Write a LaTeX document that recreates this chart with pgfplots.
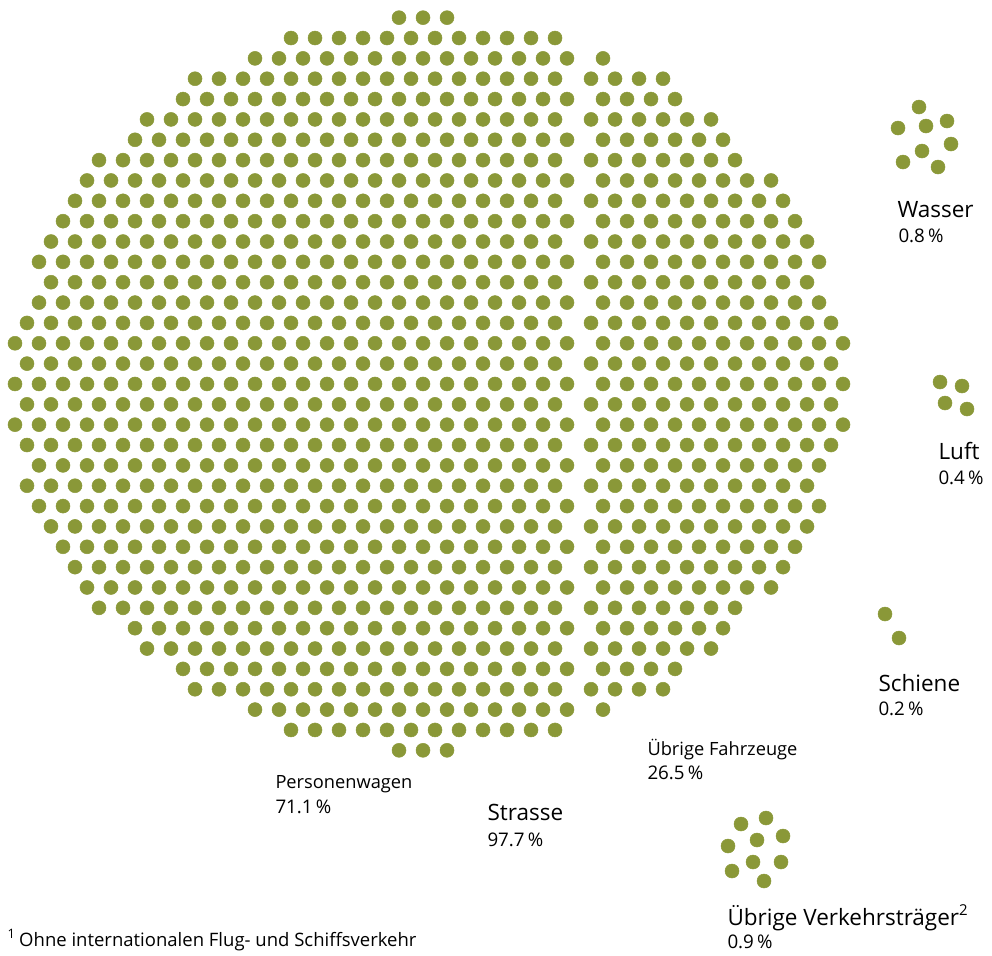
\documentclass[border=0pt]{standalone}
\usepackage{pgfplots}
\pgfplotsset{compat=1.18}
\usepackage{fontspec}
\setmainfont{Open Sans}
\definecolor{dotgreen}{RGB}{138,152,56}
\newcommand{\lblbig}{\fontsize{9pt}{11pt}\selectfont}
\newcommand{\lblmid}{\fontsize{7.5pt}{9pt}\selectfont}
\newcommand{\lblsml}{\fontsize{7.3pt}{9pt}\selectfont}
\newcommand{\lblfoot}{\fontsize{7.4pt}{9pt}\selectfont}
\pgfplotsset{dotstyle/.style={only marks, color=dotgreen, mark=*, mark size=2.8pt,
    mark options={solid, fill=dotgreen, draw=dotgreen, line width=0.2pt}}}

\begin{document}
\begin{tikzpicture}
% dot field: grid units (x = half spacing, y = row)
\begin{axis}[
    x=4.8pt, y=8.14pt,
    xmin=-35.25, xmax=47.4167, ymin=-28.059, ymax=18.870,
    hide axis, clip=false,
    anchor=south west, at={(0pt,0pt)},
]
% Personenwagen: 711 dots
\addplot[dotstyle] coordinates {
(-2,18)(0,18)(2,18)
(-11,17)(-9,17)(-7,17)(-5,17)(-3,17)(-1,17)(1,17)(3,17)(5,17)(7,17)(9,17)(11,17)
(-14,16)(-12,16)(-10,16)(-8,16)(-6,16)(-4,16)(-2,16)(0,16)(2,16)(4,16)(6,16)(8,16)(10,16)(12,16)
(-19,15)(-17,15)(-15,15)(-13,15)(-11,15)(-9,15)(-7,15)(-5,15)(-3,15)(-1,15)(1,15)(3,15)(5,15)(7,15)(9,15)(11,15)
(-20,14)(-18,14)(-16,14)(-14,14)(-12,14)(-10,14)(-8,14)(-6,14)(-4,14)(-2,14)(0,14)(2,14)(4,14)(6,14)(8,14)(10,14)(12,14)
(-23,13)(-21,13)(-19,13)(-17,13)(-15,13)(-13,13)(-11,13)(-9,13)(-7,13)(-5,13)(-3,13)(-1,13)(1,13)(3,13)(5,13)(7,13)(9,13)(11,13)
(-24,12)(-22,12)(-20,12)(-18,12)(-16,12)(-14,12)(-12,12)(-10,12)(-8,12)(-6,12)(-4,12)(-2,12)(0,12)(2,12)(4,12)(6,12)(8,12)(10,12)(12,12)
(-27,11)(-25,11)(-23,11)(-21,11)(-19,11)(-17,11)(-15,11)(-13,11)(-11,11)(-9,11)(-7,11)(-5,11)(-3,11)(-1,11)(1,11)(3,11)(5,11)(7,11)(9,11)(11,11)
(-28,10)(-26,10)(-24,10)(-22,10)(-20,10)(-18,10)(-16,10)(-14,10)(-12,10)(-10,10)(-8,10)(-6,10)(-4,10)(-2,10)(0,10)(2,10)(4,10)(6,10)(8,10)(10,10)(12,10)
(-29,9)(-27,9)(-25,9)(-23,9)(-21,9)(-19,9)(-17,9)(-15,9)(-13,9)(-11,9)(-9,9)(-7,9)(-5,9)(-3,9)(-1,9)(1,9)(3,9)(5,9)(7,9)(9,9)(11,9)
(-30,8)(-28,8)(-26,8)(-24,8)(-22,8)(-20,8)(-18,8)(-16,8)(-14,8)(-12,8)(-10,8)(-8,8)(-6,8)(-4,8)(-2,8)(0,8)(2,8)(4,8)(6,8)(8,8)(10,8)(12,8)
(-31,7)(-29,7)(-27,7)(-25,7)(-23,7)(-21,7)(-19,7)(-17,7)(-15,7)(-13,7)(-11,7)(-9,7)(-7,7)(-5,7)(-3,7)(-1,7)(1,7)(3,7)(5,7)(7,7)(9,7)(11,7)
(-32,6)(-30,6)(-28,6)(-26,6)(-24,6)(-22,6)(-20,6)(-18,6)(-16,6)(-14,6)(-12,6)(-10,6)(-8,6)(-6,6)(-4,6)(-2,6)(0,6)(2,6)(4,6)(6,6)(8,6)(10,6)(12,6)
(-31,5)(-29,5)(-27,5)(-25,5)(-23,5)(-21,5)(-19,5)(-17,5)(-15,5)(-13,5)(-11,5)(-9,5)(-7,5)(-5,5)(-3,5)(-1,5)(1,5)(3,5)(5,5)(7,5)(9,5)(11,5)
(-32,4)(-30,4)(-28,4)(-26,4)(-24,4)(-22,4)(-20,4)(-18,4)(-16,4)(-14,4)(-12,4)(-10,4)(-8,4)(-6,4)(-4,4)(-2,4)(0,4)(2,4)(4,4)(6,4)(8,4)(10,4)(12,4)
(-33,3)(-31,3)(-29,3)(-27,3)(-25,3)(-23,3)(-21,3)(-19,3)(-17,3)(-15,3)(-13,3)(-11,3)(-9,3)(-7,3)(-5,3)(-3,3)(-1,3)(1,3)(3,3)(5,3)(7,3)(9,3)(11,3)
(-34,2)(-32,2)(-30,2)(-28,2)(-26,2)(-24,2)(-22,2)(-20,2)(-18,2)(-16,2)(-14,2)(-12,2)(-10,2)(-8,2)(-6,2)(-4,2)(-2,2)(0,2)(2,2)(4,2)(6,2)(8,2)(10,2)(12,2)
(-33,1)(-31,1)(-29,1)(-27,1)(-25,1)(-23,1)(-21,1)(-19,1)(-17,1)(-15,1)(-13,1)(-11,1)(-9,1)(-7,1)(-5,1)(-3,1)(-1,1)(1,1)(3,1)(5,1)(7,1)(9,1)(11,1)
(-34,0)(-32,0)(-30,0)(-28,0)(-26,0)(-24,0)(-22,0)(-20,0)(-18,0)(-16,0)(-14,0)(-12,0)(-10,0)(-8,0)(-6,0)(-4,0)(-2,0)(0,0)(2,0)(4,0)(6,0)(8,0)(10,0)(12,0)
(-33,-1)(-31,-1)(-29,-1)(-27,-1)(-25,-1)(-23,-1)(-21,-1)(-19,-1)(-17,-1)(-15,-1)(-13,-1)(-11,-1)(-9,-1)(-7,-1)(-5,-1)(-3,-1)(-1,-1)(1,-1)(3,-1)(5,-1)(7,-1)(9,-1)(11,-1)
(-34,-2)(-32,-2)(-30,-2)(-28,-2)(-26,-2)(-24,-2)(-22,-2)(-20,-2)(-18,-2)(-16,-2)(-14,-2)(-12,-2)(-10,-2)(-8,-2)(-6,-2)(-4,-2)(-2,-2)(0,-2)(2,-2)(4,-2)(6,-2)(8,-2)(10,-2)(12,-2)
(-33,-3)(-31,-3)(-29,-3)(-27,-3)(-25,-3)(-23,-3)(-21,-3)(-19,-3)(-17,-3)(-15,-3)(-13,-3)(-11,-3)(-9,-3)(-7,-3)(-5,-3)(-3,-3)(-1,-3)(1,-3)(3,-3)(5,-3)(7,-3)(9,-3)(11,-3)
(-32,-4)(-30,-4)(-28,-4)(-26,-4)(-24,-4)(-22,-4)(-20,-4)(-18,-4)(-16,-4)(-14,-4)(-12,-4)(-10,-4)(-8,-4)(-6,-4)(-4,-4)(-2,-4)(0,-4)(2,-4)(4,-4)(6,-4)(8,-4)(10,-4)(12,-4)
(-33,-5)(-31,-5)(-29,-5)(-27,-5)(-25,-5)(-23,-5)(-21,-5)(-19,-5)(-17,-5)(-15,-5)(-13,-5)(-11,-5)(-9,-5)(-7,-5)(-5,-5)(-3,-5)(-1,-5)(1,-5)(3,-5)(5,-5)(7,-5)(9,-5)(11,-5)
(-32,-6)(-30,-6)(-28,-6)(-26,-6)(-24,-6)(-22,-6)(-20,-6)(-18,-6)(-16,-6)(-14,-6)(-12,-6)(-10,-6)(-8,-6)(-6,-6)(-4,-6)(-2,-6)(0,-6)(2,-6)(4,-6)(6,-6)(8,-6)(10,-6)(12,-6)
(-31,-7)(-29,-7)(-27,-7)(-25,-7)(-23,-7)(-21,-7)(-19,-7)(-17,-7)(-15,-7)(-13,-7)(-11,-7)(-9,-7)(-7,-7)(-5,-7)(-3,-7)(-1,-7)(1,-7)(3,-7)(5,-7)(7,-7)(9,-7)(11,-7)
(-30,-8)(-28,-8)(-26,-8)(-24,-8)(-22,-8)(-20,-8)(-18,-8)(-16,-8)(-14,-8)(-12,-8)(-10,-8)(-8,-8)(-6,-8)(-4,-8)(-2,-8)(0,-8)(2,-8)(4,-8)(6,-8)(8,-8)(10,-8)(12,-8)
(-29,-9)(-27,-9)(-25,-9)(-23,-9)(-21,-9)(-19,-9)(-17,-9)(-15,-9)(-13,-9)(-11,-9)(-9,-9)(-7,-9)(-5,-9)(-3,-9)(-1,-9)(1,-9)(3,-9)(5,-9)(7,-9)(9,-9)(11,-9)
(-28,-10)(-26,-10)(-24,-10)(-22,-10)(-20,-10)(-18,-10)(-16,-10)(-14,-10)(-12,-10)(-10,-10)(-8,-10)(-6,-10)(-4,-10)(-2,-10)(0,-10)(2,-10)(4,-10)(6,-10)(8,-10)(10,-10)(12,-10)
(-27,-11)(-25,-11)(-23,-11)(-21,-11)(-19,-11)(-17,-11)(-15,-11)(-13,-11)(-11,-11)(-9,-11)(-7,-11)(-5,-11)(-3,-11)(-1,-11)(1,-11)(3,-11)(5,-11)(7,-11)(9,-11)(11,-11)
(-24,-12)(-22,-12)(-20,-12)(-18,-12)(-16,-12)(-14,-12)(-12,-12)(-10,-12)(-8,-12)(-6,-12)(-4,-12)(-2,-12)(0,-12)(2,-12)(4,-12)(6,-12)(8,-12)(10,-12)(12,-12)
(-23,-13)(-21,-13)(-19,-13)(-17,-13)(-15,-13)(-13,-13)(-11,-13)(-9,-13)(-7,-13)(-5,-13)(-3,-13)(-1,-13)(1,-13)(3,-13)(5,-13)(7,-13)(9,-13)(11,-13)
(-20,-14)(-18,-14)(-16,-14)(-14,-14)(-12,-14)(-10,-14)(-8,-14)(-6,-14)(-4,-14)(-2,-14)(0,-14)(2,-14)(4,-14)(6,-14)(8,-14)(10,-14)(12,-14)
(-19,-15)(-17,-15)(-15,-15)(-13,-15)(-11,-15)(-9,-15)(-7,-15)(-5,-15)(-3,-15)(-1,-15)(1,-15)(3,-15)(5,-15)(7,-15)(9,-15)(11,-15)
(-14,-16)(-12,-16)(-10,-16)(-8,-16)(-6,-16)(-4,-16)(-2,-16)(0,-16)(2,-16)(4,-16)(6,-16)(8,-16)(10,-16)(12,-16)
(-11,-17)(-9,-17)(-7,-17)(-5,-17)(-3,-17)(-1,-17)(1,-17)(3,-17)(5,-17)(7,-17)(9,-17)(11,-17)
(-2,-18)(0,-18)(2,-18)
};
% Uebrige Fahrzeuge: 265 dots
\addplot[dotstyle] coordinates {
(15,16)
(14,15)(16,15)(18,15)(20,15)
(15,14)(17,14)(19,14)(21,14)
(14,13)(16,13)(18,13)(20,13)(22,13)(24,13)
(15,12)(17,12)(19,12)(21,12)(23,12)(25,12)
(14,11)(16,11)(18,11)(20,11)(22,11)(24,11)(26,11)
(15,10)(17,10)(19,10)(21,10)(23,10)(25,10)(27,10)(29,10)
(14,9)(16,9)(18,9)(20,9)(22,9)(24,9)(26,9)(28,9)(30,9)
(15,8)(17,8)(19,8)(21,8)(23,8)(25,8)(27,8)(29,8)(31,8)
(14,7)(16,7)(18,7)(20,7)(22,7)(24,7)(26,7)(28,7)(30,7)(32,7)
(15,6)(17,6)(19,6)(21,6)(23,6)(25,6)(27,6)(29,6)(31,6)(33,6)
(14,5)(16,5)(18,5)(20,5)(22,5)(24,5)(26,5)(28,5)(30,5)(32,5)
(15,4)(17,4)(19,4)(21,4)(23,4)(25,4)(27,4)(29,4)(31,4)(33,4)
(14,3)(16,3)(18,3)(20,3)(22,3)(24,3)(26,3)(28,3)(30,3)(32,3)(34,3)
(15,2)(17,2)(19,2)(21,2)(23,2)(25,2)(27,2)(29,2)(31,2)(33,2)(35,2)
(14,1)(16,1)(18,1)(20,1)(22,1)(24,1)(26,1)(28,1)(30,1)(32,1)(34,1)
(15,0)(17,0)(19,0)(21,0)(23,0)(25,0)(27,0)(29,0)(31,0)(33,0)(35,0)
(14,-1)(16,-1)(18,-1)(20,-1)(22,-1)(24,-1)(26,-1)(28,-1)(30,-1)(32,-1)(34,-1)
(15,-2)(17,-2)(19,-2)(21,-2)(23,-2)(25,-2)(27,-2)(29,-2)(31,-2)(33,-2)(35,-2)
(14,-3)(16,-3)(18,-3)(20,-3)(22,-3)(24,-3)(26,-3)(28,-3)(30,-3)(32,-3)(34,-3)
(15,-4)(17,-4)(19,-4)(21,-4)(23,-4)(25,-4)(27,-4)(29,-4)(31,-4)(33,-4)
(14,-5)(16,-5)(18,-5)(20,-5)(22,-5)(24,-5)(26,-5)(28,-5)(30,-5)(32,-5)
(15,-6)(17,-6)(19,-6)(21,-6)(23,-6)(25,-6)(27,-6)(29,-6)(31,-6)(33,-6)
(14,-7)(16,-7)(18,-7)(20,-7)(22,-7)(24,-7)(26,-7)(28,-7)(30,-7)(32,-7)
(15,-8)(17,-8)(19,-8)(21,-8)(23,-8)(25,-8)(27,-8)(29,-8)(31,-8)
(14,-9)(16,-9)(18,-9)(20,-9)(22,-9)(24,-9)(26,-9)(28,-9)(30,-9)
(15,-10)(17,-10)(19,-10)(21,-10)(23,-10)(25,-10)(27,-10)(29,-10)
(14,-11)(16,-11)(18,-11)(20,-11)(22,-11)(24,-11)(26,-11)
(15,-12)(17,-12)(19,-12)(21,-12)(23,-12)(25,-12)
(14,-13)(16,-13)(18,-13)(20,-13)(22,-13)(24,-13)
(15,-14)(17,-14)(19,-14)(21,-14)
(14,-15)(16,-15)(18,-15)(20,-15)
(15,-16)
};
\end{axis}

% small groups and labels: pixel units
\begin{axis}[
    width=396.8pt, height=382pt, scale only axis,
    xmin=0, xmax=992, ymin=0, ymax=955, y dir=reverse,
    hide axis, clip=false,
    anchor=south west, at={(0pt,0pt)},
]
\path (axis cs:0,0) rectangle (axis cs:992,955);
% Wasser 0.8
\addplot[dotstyle] coordinates {
(919,107)(898,128)(926,126)(947,121)(951,144)(922,151)(903,162)(938,167)};
% Luft 0.4
\addplot[dotstyle] coordinates {
(940,382)(962,386)(945,403)(967,409)};
% Schiene 0.2
\addplot[dotstyle] coordinates {
(885,614)(899,638)};
% Uebrige Verkehrstraeger 0.9
\addplot[dotstyle] coordinates {
(741,824)(766,818)(728,846)(757,840)(783,836)(753,862)(781,862)(732,871)(764,881)};

\node[anchor=base west, inner sep=0pt] at (axis cs:897,217) {\lblbig Wasser};
\node[anchor=base west, inner sep=0pt] at (axis cs:898,242) {\lblmid 0.8\,\%};
\node[anchor=base west, inner sep=0pt] at (axis cs:938,459) {\lblbig Luft};
\node[anchor=base west, inner sep=0pt] at (axis cs:938,484) {\lblmid 0.4\,\%};
\node[anchor=base west, inner sep=0pt] at (axis cs:878,691) {\lblbig Schiene};
\node[anchor=base west, inner sep=0pt] at (axis cs:878,715) {\lblmid 0.2\,\%};
\node[anchor=base west, inner sep=0pt] at (axis cs:647,755) {\lblsml Übrige Fahrzeuge};
\node[anchor=base west, inner sep=0pt] at (axis cs:647,779) {\lblmid 26.5\,\%};
\node[anchor=base west, inner sep=0pt] at (axis cs:275,788) {\lblsml Personenwagen};
\node[anchor=base west, inner sep=0pt] at (axis cs:275,813) {\lblmid 71.1\,\%};
\node[anchor=base west, inner sep=0pt] at (axis cs:487,820) {\lblbig Strasse};
\node[anchor=base west, inner sep=0pt] at (axis cs:487,846) {\lblmid 97.7\,\%};
\node[anchor=base west, inner sep=0pt] at (axis cs:727,925) {\lblbig Übrige Verkehrsträger\textsuperscript{2}};
\node[anchor=base west, inner sep=0pt] at (axis cs:727,948) {\lblmid 0.9\,\%};
\node[anchor=base west, inner sep=0pt] at (axis cs:7,946) {\lblfoot\textsuperscript{1}\,Ohne internationalen Flug- und Schiffsverkehr};
\end{axis}
\end{tikzpicture}
\end{document}
